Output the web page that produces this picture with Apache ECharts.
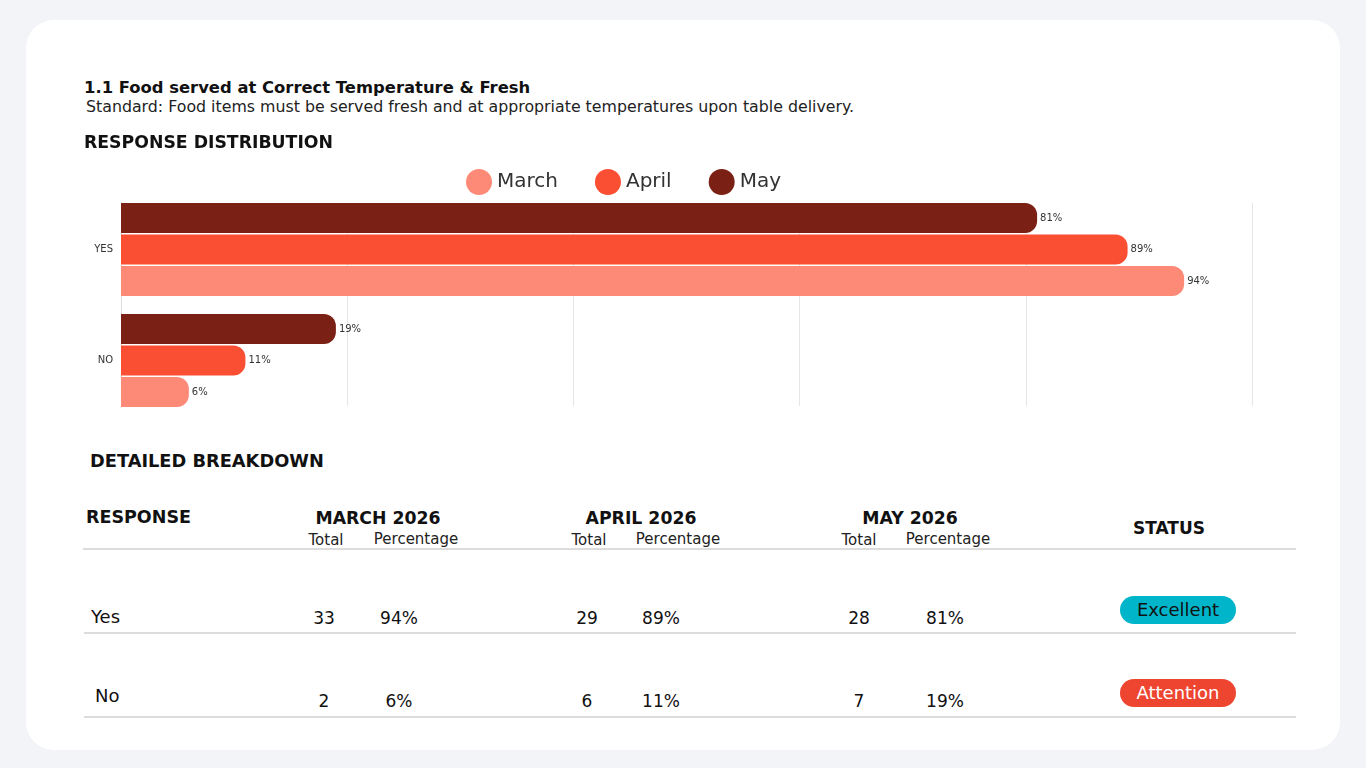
<!DOCTYPE html>
<html>
<head>
<meta charset="utf-8">
<script src="https://cdn.jsdelivr.net/npm/echarts@6/dist/echarts.min.js"></script>
<style>
  html, body { margin: 0; padding: 0; background: #f3f4f8; }
  body { width: 1366px; height: 768px; position: relative; overflow: hidden;
         font-family: "DejaVu Sans", sans-serif; color: #111; }
  #card { position: absolute; left: 26px; top: 20px; width: 1314px; height: 730px;
          background: #fff; border-radius: 28px; }
  #chart { position: absolute; left: 0; top: 150px; width: 1366px; height: 280px; }
  .t { position: absolute; white-space: nowrap; line-height: 1; }
  .c { transform: translate(-50%, -50%); }
  .l { transform: translate(0, -50%); }
  .rule { position: absolute; height: 2px; background: #dcdcdc; }
  .badge { position: absolute; width: 116px; height: 28px; border-radius: 14px;
           font-size: 18px; line-height: 28px; text-align: center; }
</style>
</head>
<body>
<div id="card"></div>
<div id="chart"></div>
<div id="table"></div>
<script>
// chart data
var categories = ['NO', 'YES'];
var months = ['March', 'April', 'May'];
var monthColors = ['#fd8a77', '#fb4f33', '#7b2015'];
var yesPct = [94, 89, 81];
var noPct = [6, 11, 19];

// table data
var yesTotals = [33, 29, 28];
var noTotals = [2, 6, 7];
var tableHeads = ['MARCH 2026', 'APRIL 2026', 'MAY 2026'];
var rowLabels = ['Yes', 'No'];
var statusLabels = ['Excellent', 'Attention'];

function place(parent, text, x, y, cls, style) {
  var d = document.createElement('div');
  d.className = 't ' + cls;
  d.textContent = text;
  d.style.left = x + 'px';
  d.style.top = y + 'px';
  for (var k in style) d.style[k] = style[k];
  parent.appendChild(d);
  return d;
}

var body = document.body;
// headings
place(body, '1.1 Food served at Correct Temperature & Fresh', 84, 88, 'l', { fontSize: '16.4px', fontWeight: '600' });
place(body, 'Standard: Food items must be served fresh and at appropriate temperatures upon table delivery.', 86, 107, 'l', { fontSize: '15.8px', color: '#222' });
place(body, 'RESPONSE DISTRIBUTION', 84, 143, 'l', { fontSize: '17.3px', fontWeight: '600' });
place(body, 'DETAILED BREAKDOWN', 90, 461, 'l', { fontSize: '17.8px', fontWeight: '600' });

// breakdown table
var tbl = document.getElementById('table');
var headX = [378, 641, 910];
var totalX = [324, 587, 859];
var pctX = [399, 661, 945];
var subTotalX = [326, 589, 859];
var subPctX = [416, 678, 948];
place(tbl, 'RESPONSE', 86, 518, 'l', { fontSize: '17.5px', fontWeight: '700' });
place(tbl, 'STATUS', 1169, 528, 'c', { fontSize: '17px', fontWeight: '700' });
for (var i = 0; i < months.length; i++) {
  place(tbl, tableHeads[i], headX[i], 519, 'c', { fontSize: '17.3px', fontWeight: '700' });
  place(tbl, 'Total', subTotalX[i], 540, 'c', { fontSize: '15px', color: '#222' });
  place(tbl, 'Percentage', subPctX[i], 539, 'c', { fontSize: '15px', color: '#222' });
}
var rules = [[83, 549], [84, 633], [84, 717]];
rules.forEach(function (r) {
  var d = document.createElement('div');
  d.className = 'rule';
  d.style.left = r[0] + 'px';
  d.style.top = (r[1] - 1) + 'px';
  d.style.width = (1296 - r[0]) + 'px';
  tbl.appendChild(d);
});
var rowY = [617, 700];
var rowTotals = [yesTotals, noTotals];
var rowPct = [yesPct, noPct];
for (var r = 0; r < rowLabels.length; r++) {
  place(tbl, rowLabels[r], r === 0 ? 91 : 95, rowY[r] - (r === 0 ? 0 : 4), 'l', { fontSize: '18px' });
  for (var j = 0; j < months.length; j++) {
    place(tbl, String(rowTotals[r][j]), totalX[j], rowY[r] + 1, 'c', { fontSize: '17px' });
    place(tbl, rowPct[r][j] + '%', pctX[j], rowY[r] + 1, 'c', { fontSize: '17px' });
  }
}
var badgeColors = ['#00b5c9', '#ee4530'];
var badgeText = ['#111', '#fff'];
var badgeTop = [596, 679];
for (var b = 0; b < statusLabels.length; b++) {
  var d = document.createElement('div');
  d.className = 'badge';
  d.textContent = statusLabels[b];
  d.style.left = '1120px';
  d.style.top = badgeTop[b] + 'px';
  d.style.background = badgeColors[b];
  d.style.color = badgeText[b];
  tbl.appendChild(d);
}

// response distribution chart: May on top of each group, so series run May -> March
var series = [];
for (var s = months.length - 1; s >= 0; s--) {
  series.push({
    name: months[s],
    type: 'bar',
    xAxisIndex: 1,
    yAxisIndex: 1,
    data: [noPct[s], yesPct[s]],
    barWidth: 30,
    barGap: '5%',
    itemStyle: { color: monthColors[s], borderRadius: [0, 12, 12, 0] },
    label: {
      show: true,
      position: 'right',
      distance: 3,
      formatter: '{c}%',
      fontSize: 10,
      color: '#333',
      fontFamily: 'DejaVu Sans'
    }
  });
}

var option = {
  animation: false,
  textStyle: { fontFamily: 'DejaVu Sans' },
  legend: {
    data: months,
    left: 461,
    top: 14,
    icon: 'circle',
    itemWidth: 26,
    itemHeight: 26,
    itemGap: 37,
    textStyle: { fontSize: 20, color: '#333' }
  },
  grid: [
    // grid lines frame
    { left: 121, top: 53, width: 1131, height: 203 },
    // bars
    { left: 121, top: 44, width: 1131, height: 222 }
  ],
  xAxis: [
    {
      type: 'value', gridIndex: 0, min: 0, max: 100, interval: 20,
      axisLabel: { show: false }, axisTick: { show: false }, axisLine: { show: false },
      splitLine: { lineStyle: { color: '#e6e6e6' } }
    },
    {
      type: 'value', gridIndex: 1, min: 0, max: 100, show: false,
      splitLine: { show: false }
    }
  ],
  yAxis: [
    {
      type: 'category', gridIndex: 0, data: categories,
      axisLabel: { show: false }, axisTick: { show: false },
      axisLine: { show: true, lineStyle: { color: '#dddddd' } }
    },
    {
      type: 'category', gridIndex: 1, data: categories,
      axisLine: { show: false }, axisTick: { show: false },
      axisLabel: { fontSize: 10, color: '#333', margin: 8 }
    }
  ],
  series: series
};

var chart = echarts.init(document.getElementById('chart'));
chart.setOption(option);
</script>
</body>
</html>
